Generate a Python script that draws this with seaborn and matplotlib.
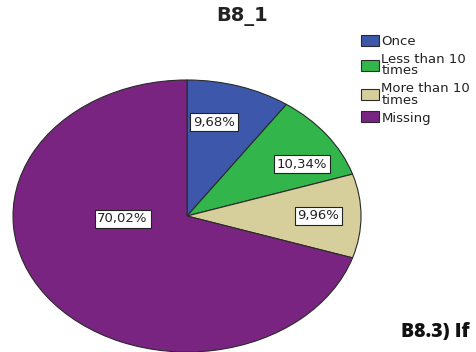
import matplotlib
matplotlib.use("Agg")
import matplotlib.pyplot as plt
import seaborn as sns
import numpy as np

sns.set_style("white")
plt.rcParams["font.family"] = ["DejaVu Sans"]

categories = ["Once", "Less than 10\ntimes", "More than 10\ntimes", "Missing"]
percentages = [9.68, 10.34, 9.96, 70.02]
colors = sns.color_palette(["#3D58AB", "#32B54B", "#D6CF9C", "#7A2482"])

# label centres in pie units (radius = 1)
label_xy = [(0.155, 0.69), (0.66, 0.38), (0.755, 0.0), (-0.37, -0.02)]

W, H = 477, 352
fig = plt.figure(figsize=(W / 100, H / 100), dpi=100)
# elliptical pie: axes spans the pie's bounding box in pixels
left, right, top, bottom = 13, 361, 80, 352
ax = fig.add_axes([left / W, (H - bottom) / H, (right - left) / W, (bottom - top) / H])

wedges, _ = ax.pie(
    percentages,
    colors=colors,
    startangle=90,
    counterclock=False,
    radius=1.0,
    wedgeprops=dict(edgecolor="#2a2a2a", linewidth=0.8),
)
ax.set_aspect("auto")
ax.set_xlim(-1, 1)
ax.set_ylim(-1, 1)
ax.axis("off")
for w in wedges:
    w.set_clip_on(False)

for val, (x, y) in zip(percentages, label_xy):
    ax.text(
        x, y, f"{val:.2f}%".replace(".", ","),
        ha="center", va="center", fontsize=9.5, color="#222222",
        bbox=dict(boxstyle="square,pad=0.2", facecolor="white",
                  edgecolor="#222222", linewidth=0.8),
    )

fig.text(242 / W, 1 - 17 / H, "B8_1", ha="center", va="center",
         fontsize=14, fontweight="bold", color="#222222")

leg = fig.legend(
    wedges, categories,
    loc="upper left", bbox_to_anchor=(361 / W, 1 - 35 / H),
    frameon=False, fontsize=9.5, handlelength=1.4, handleheight=0.9,
    handletextpad=0.15, labelspacing=0.35, borderpad=0, borderaxespad=0,
)
for t in leg.get_texts():
    t.set_linespacing(0.88)
    t.set_color("#222222")

fig.text(470 / W, 1 - 332 / H, "B8.3) If", ha="right", va="center",
         fontsize=14, fontweight="heavy", family=["Open Sans", "DejaVu Sans"],
         color="#111111")

fig.savefig("out.png", dpi=100)
